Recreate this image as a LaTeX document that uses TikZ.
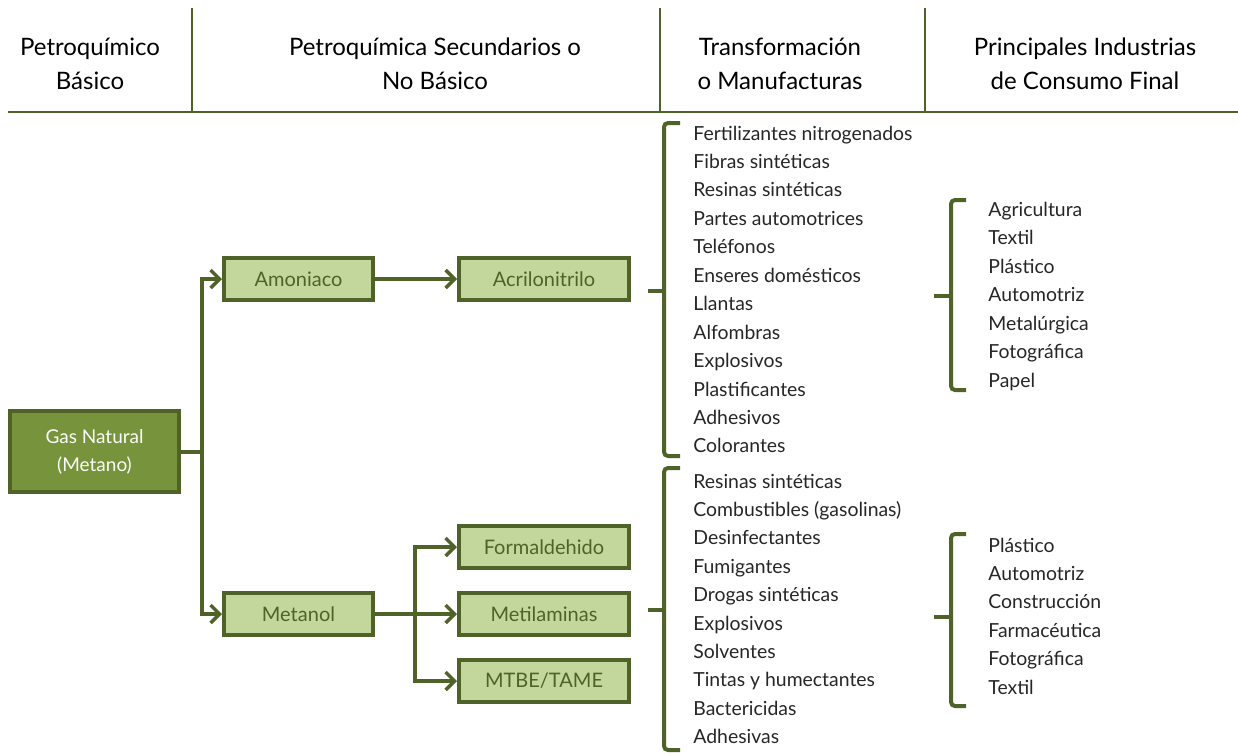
\documentclass[tikz,border=0pt]{standalone}
\usepackage{fontspec}
\setmainfont{Lato}
\usetikzlibrary{arrows.meta}
\definecolor{darkolive}{HTML}{4F6228}
\definecolor{midolive}{HTML}{77933C}
\definecolor{lightolive}{HTML}{C3D69B}
\tikzset{
  box/.style={draw=darkolive, line width=1.8pt, fill=lightolive, text=darkolive,
    minimum width=74.7pt, minimum height=21.2pt, inner sep=0pt,
    font=\fontsize{10}{12}\selectfont},
  widebox/.style={box, minimum width=85.2pt},
  gasbox/.style={box, fill=midolive, text=white!92!lightolive, minimum width=84.7pt,
    minimum height=40.7pt, align=center, font=\fontsize{9.5}{14}\selectfont},
  link/.style={draw=darkolive, line width=2pt, -{Straight Barb[length=4.5pt, width=9pt, line width=1.7pt]}},
  brace/.style={draw=darkolive, line width=2pt, rounded corners=2pt},
  header/.style={align=center, text=black, font=\fontsize{12}{17}\selectfont},
  item/.style={anchor=base west, inner sep=0pt, text=black!85, font=\fontsize{9.7}{11}\selectfont},
  rule/.style={draw=darkolive, line width=0.8pt}
}
\begin{document}
\begin{tikzpicture}[x=0.5pt, y=-0.5pt]
\useasboundingbox (0,0) rectangle (1238,755);
% header
\draw[rule] (8,112) -- (1238,112);
\draw[rule] (192,8) -- (192,112) (660,8) -- (660,112) (925,8) -- (925,112);
\node[header] (h1) at (90,64) {Petroquímico\\Básico};
\node[header] (h2) at (435,64) {Petroquímica Secundarios o\\No Básico};
\node[header] (h3) at (780,64) {Transformación\\o Manufacturas};
\node[header] (h4) at (1085,64) {Principales Industrias\\de Consumo Final};
% boxes
\node[gasbox] (gas) at (94.5,451.5) {Gas Natural\\(Metano)};
\node[box] (amon) at (298.5,279) {Amoniaco};
\node[widebox] (acril) at (544,279) {Acrilonitrilo};
\node[box] (meta) at (298.5,614) {Metanol};
\node[widebox] (form) at (544,547) {Formaldehido};
\node[widebox] (metil) at (544,614) {Metilaminas};
\node[widebox] (mtbe) at (544,681) {MTBE/TAME};
% connectors
\draw[link] (gas.east) -- ++(21,0) |- (amon.west);
\draw[link] (gas.east) -- ++(21,0) |- (meta.west);
\draw[link] (amon) -- (acril);
\draw[link] (meta.east) -- ++(40,0) |- (form.west);
\draw[link] (meta) -- (metil);
\draw[link] (meta.east) -- ++(40,0) |- (mtbe.west);
% braces
\draw[brace] (680,123) -- (664,123) -- (664,456) -- (680,456);
\draw[brace] (664,291) -- (648,291);
\draw[brace] (680,468) -- (664,468) -- (664,750) -- (680,750);
\draw[brace] (664,610) -- (648,610);
\draw[brace] (966,200) -- (951,200) -- (951,390) -- (966,390);
\draw[brace] (951,296) -- (934,296);
\draw[brace] (966,534) -- (951,534) -- (951,706) -- (966,706);
\draw[brace] (951,617) -- (934,617);
% lists
\foreach \t [count=\i from 0] in {Fertilizantes nitrogenados, Fibras sintéticas,
  Resinas sintéticas, Partes automotrices, Teléfonos, Enseres domésticos, Llantas,
  Alfombras, Explosivos, Plastificantes, Adhesivos, Colorantes}
  \node[item] (ta\i) at (693,140+\i*28.45) {\t};
\foreach \t [count=\i from 0] in {Resinas sintéticas, Combustibles (gasolinas),
  Desinfectantes, Fumigantes, Drogas sintéticas, Explosivos, Solventes,
  Tintas y humectantes, Bactericidas, Adhesivas}
  \node[item] (tb\i) at (693,488+\i*28.4) {\t};
\foreach \t [count=\i from 0] in {Agricultura, Textil, Plástico, Automotriz,
  Metalúrgica, Fotográfica, Papel}
  \node[item] (ia\i) at (988,216+\i*28.5) {\t};
\foreach \t [count=\i from 0] in {Plástico, Automotriz, Construcción, Farmacéutica,
  Fotográfica, Textil}
  \node[item] (ib\i) at (988,552+\i*28.4) {\t};
\end{tikzpicture}
\end{document}
